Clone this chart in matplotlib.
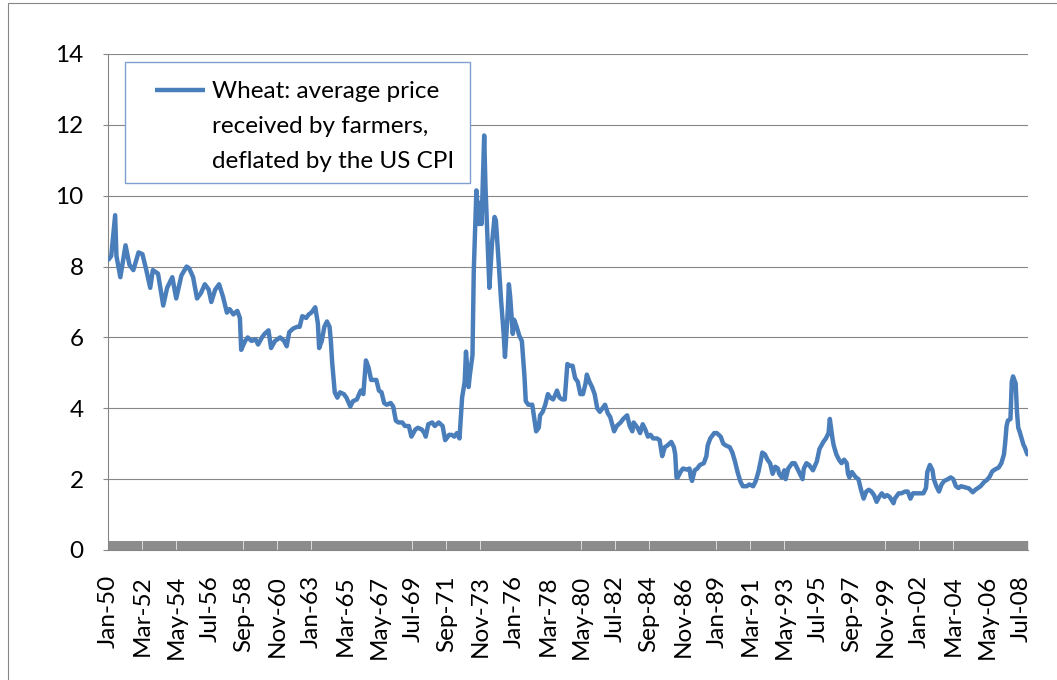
import numpy as np
import matplotlib
matplotlib.use("Agg")
import matplotlib.pyplot as plt
from matplotlib.patches import Rectangle
from matplotlib.lines import Line2D

plt.rcParams['font.family'] = ['Lato', 'DejaVu Sans']

# months since Jan-1950 (Jan-1950 .. Dec-2008 = 708 months) and the price
n_months = 708
month_idx = [
    0, 2, 5, 6, 9, 13, 16, 19, 23, 26, 29, 32, 34, 38, 42, 45, 49, 52, 56, 60,
    62, 65, 68, 71, 74, 77, 79, 82, 85, 88, 91, 93, 96, 99, 101, 102, 105, 107, 110, 113,
    115, 118, 120, 123, 125, 128, 132, 135, 137, 139, 142, 145, 147, 149, 152, 154, 156, 159, 161, 162,
    164, 166, 168, 170, 171, 172, 174, 176, 178, 181, 183, 186, 188, 191, 194, 196, 198, 200, 202, 204,
    206, 208, 210, 212, 214, 217, 219, 221, 223, 226, 228, 231, 233, 236, 238, 241, 243, 244, 246, 249,
    251, 254, 257, 259, 262, 264, 266, 268, 270, 272, 274, 275, 277, 278, 280, 281, 283, 285, 286, 287,
    289, 290, 292, 293, 295, 297, 298, 300, 302, 304, 305, 307, 308, 309, 311, 312, 314, 316, 318, 320,
    321, 323, 326, 327, 329, 331, 332, 334, 336, 338, 340, 342, 344, 345, 347, 349, 351, 353, 355, 357,
    359, 361, 363, 365, 367, 368, 370, 372, 374, 376, 378, 380, 382, 384, 386, 389, 391, 394, 396, 399,
    401, 403, 404, 407, 409, 411, 413, 415, 417, 419, 422, 424, 426, 428, 430, 433, 435, 436, 437, 438,
    440, 442, 445, 447, 448, 449, 451, 453, 455, 458, 460, 461, 463, 466, 468, 471, 473, 475, 478, 480,
    482, 484, 486, 488, 491, 493, 496, 498, 500, 502, 503, 505, 507, 509, 511, 513, 515, 516, 518, 520,
    521, 523, 526, 528, 530, 532, 534, 535, 537, 539, 542, 545, 547, 550, 552, 554, 555, 557, 558, 560,
    562, 564, 566, 568, 569, 570, 572, 574, 575, 577, 579, 581, 583, 585, 587, 589, 591, 593, 595, 597,
    599, 601, 604, 605, 608, 610, 613, 615, 617, 619, 622, 624, 627, 629, 630, 632, 634, 635, 637, 639,
    641, 643, 646, 648, 650, 652, 654, 656, 658, 662, 665, 667, 671, 674, 676, 678, 680, 682, 685, 687,
    689, 690, 691, 692, 694, 695, 696, 698, 699, 700, 701, 703, 704, 705, 707,
]
price = [
    8.2, 8.3, 9.45, 8.3, 7.7, 8.6, 8.05, 7.9, 8.4, 8.35, 7.9, 7.4, 7.9, 7.8, 6.9, 7.4, 7.7, 7.1, 7.75, 8.0,
    7.95, 7.7, 7.1, 7.25, 7.5, 7.35, 7.0, 7.35, 7.5, 7.15, 6.7, 6.8, 6.65, 6.75, 6.55, 5.65, 5.9, 6.0, 5.9, 5.95,
    5.8, 6.0, 6.1, 6.2, 5.7, 5.9, 6.0, 5.9, 5.75, 6.15, 6.25, 6.3, 6.3, 6.6, 6.55, 6.65, 6.7, 6.85, 6.4, 5.7,
    5.9, 6.3, 6.45, 6.3, 5.9, 5.3, 4.45, 4.3, 4.45, 4.4, 4.3, 4.05, 4.2, 4.25, 4.5, 4.4, 5.35, 5.15, 4.8, 4.8,
    4.8, 4.5, 4.45, 4.15, 4.1, 4.15, 4.05, 3.65, 3.6, 3.6, 3.5, 3.5, 3.2, 3.4, 3.45, 3.4, 3.3, 3.2, 3.55, 3.6,
    3.5, 3.6, 3.5, 3.1, 3.25, 3.25, 3.2, 3.3, 3.15, 4.3, 4.75, 5.6, 4.6, 4.95, 5.5, 7.9, 10.15, 9.2, 9.8, 9.2,
    11.7, 10.25, 8.35, 7.4, 8.65, 9.4, 9.3, 8.2, 7.05, 6.1, 5.45, 6.65, 7.5, 7.15, 6.1, 6.5, 6.3, 6.05, 5.9, 4.9,
    4.2, 4.1, 4.1, 3.85, 3.35, 3.45, 3.8, 3.9, 4.1, 4.4, 4.3, 4.25, 4.4, 4.5, 4.3, 4.25, 4.25, 5.25, 5.2, 5.2,
    4.85, 4.75, 4.4, 4.4, 4.7, 4.95, 4.75, 4.6, 4.4, 4.0, 3.9, 4.0, 4.1, 3.87, 3.75, 3.35, 3.5, 3.6, 3.7, 3.8,
    3.5, 3.35, 3.6, 3.45, 3.3, 3.55, 3.4, 3.2, 3.25, 3.15, 3.15, 3.1, 2.65, 2.9, 2.95, 3.05, 2.9, 2.7, 2.05, 2.05,
    2.2, 2.3, 2.27, 2.3, 2.05, 1.95, 2.25, 2.3, 2.4, 2.45, 2.65, 2.95, 3.15, 3.3, 3.3, 3.2, 3.0, 2.95, 2.9, 2.75,
    2.5, 2.2, 1.95, 1.8, 1.8, 1.85, 1.8, 1.95, 2.2, 2.55, 2.75, 2.7, 2.55, 2.45, 2.15, 2.35, 2.3, 2.15, 2.05, 2.25,
    2.0, 2.3, 2.45, 2.45, 2.3, 2.15, 2.0, 2.3, 2.45, 2.4, 2.25, 2.5, 2.85, 3.05, 3.15, 3.3, 3.7, 3.15, 2.95, 2.7,
    2.55, 2.45, 2.55, 2.45, 2.15, 2.05, 2.2, 2.1, 2.05, 2.0, 1.7, 1.45, 1.65, 1.7, 1.65, 1.55, 1.36, 1.5, 1.6, 1.5,
    1.55, 1.5, 1.32, 1.45, 1.6, 1.6, 1.65, 1.65, 1.45, 1.6, 1.6, 1.6, 1.6, 1.75, 2.2, 2.4, 2.25, 2.0, 1.8, 1.65,
    1.85, 1.95, 2.0, 2.05, 2.0, 1.8, 1.75, 1.8, 1.78, 1.74, 1.63, 1.7, 1.8, 1.93, 1.98, 2.07, 2.22, 2.27, 2.33, 2.45,
    2.7, 3.05, 3.5, 3.65, 3.7, 4.75, 4.9, 4.7, 3.9, 3.45, 3.35, 3.1, 2.97, 2.9, 2.7,
]

tick_every = 26
tick_labels = ['Jan-50', 'Mar-52', 'May-54', 'Jul-56', 'Sep-58', 'Nov-60', 'Jan-63',
               'Mar-65', 'May-67', 'Jul-69', 'Sep-71', 'Nov-73', 'Jan-76', 'Mar-78',
               'May-80', 'Jul-82', 'Sep-84', 'Nov-86', 'Jan-89', 'Mar-91', 'May-93',
               'Jul-95', 'Sep-97', 'Nov-99', 'Jan-02', 'Mar-04', 'May-06', 'Jul-08']
y_ticks = [0, 2, 4, 6, 8, 10, 12, 14]
legend_lines = ['Wheat: average price', 'received by farmers,', 'deflated by the US CPI']

blue = '#4A7EBB'
grey = '#868686'
W, H = 1057, 680

fig = plt.figure(figsize=(W / 100, H / 100), dpi=100)
ax = fig.add_axes([108 / W, (H - 550) / H, 920 / W, 496 / H])

ax.plot(month_idx, price, color=blue, lw=3.2, solid_joinstyle='round', solid_capstyle='round', zorder=3)

ax.set_xlim(-0.5, n_months - 0.5)
ax.set_ylim(0, 14)
ax.set_yticks(y_ticks)
ax.set_yticklabels([str(v) for v in y_ticks])
ax.yaxis.grid(True, color=grey, lw=0.8)
ax.set_axisbelow(True)

ax.set_xticks(np.arange(len(tick_labels)) * tick_every)
ax.set_xticklabels(tick_labels, rotation=90, ha='center', va='top')
ax.set_xticks(np.arange(n_months), minor=True)
ax.tick_params(axis='x', which='major', length=0, pad=18, labelsize=17.5)
ax.tick_params(axis='x', which='minor', direction='in', length=6.5, width=1.7, color='#8C8C8C')
ax.tick_params(axis='y', which='major', direction='out', length=3.6, width=0.8, color=grey,
               pad=14, labelsize=17.5)

for side in ['top', 'right']:
    ax.spines[side].set_visible(False)
ax.spines['left'].set_color(grey)
ax.spines['left'].set_linewidth(0.8)
ax.spines['bottom'].set_color(grey)
ax.spines['bottom'].set_linewidth(0.8)

# legend box (Excel style, sample line level with the first text line)
fig.add_artist(Rectangle((125 / W, (H - 183) / H), 345 / W, 121 / H, transform=fig.transFigure,
                         facecolor='white', edgecolor='#7F9FCF', lw=1.0, zorder=5))
fig.add_artist(Line2D([155 / W, 205 / W], [(H - 90) / H] * 2, transform=fig.transFigure,
                      color=blue, lw=3.2, solid_capstyle='butt', zorder=6))
for i, line in enumerate(legend_lines):
    fig.text(212 / W, (H - 98 - 35 * i) / H, line, fontsize=17.5, va='baseline', ha='left', zorder=6)

# outer chart border
fig.add_artist(Rectangle((8 / W, -0.01), 1.0, (H - 3) / H + 0.01, transform=fig.transFigure,
                         facecolor='none', edgecolor=grey, lw=0.8))

fig.savefig('out.png', dpi=100)
